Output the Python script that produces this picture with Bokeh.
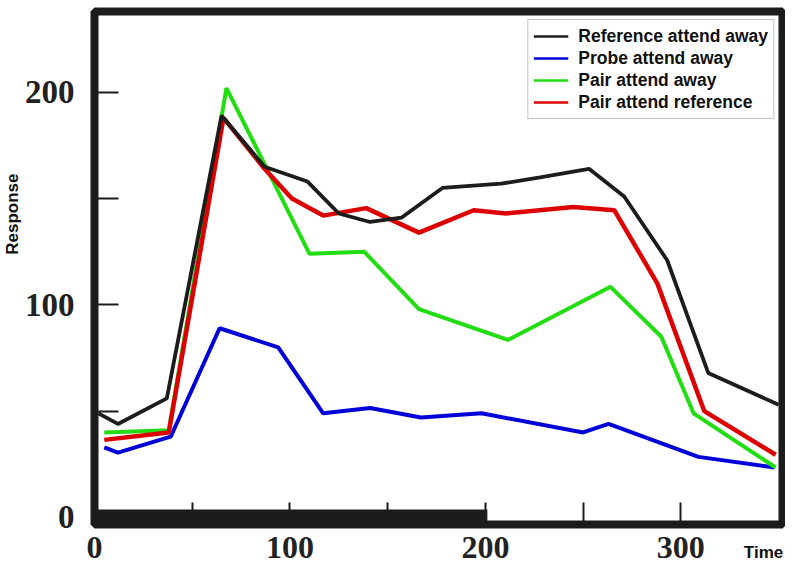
import math
from bokeh.plotting import figure
from bokeh.models import FixedTicker, BoxAnnotation, Legend, LegendItem, Range1d, Title, LinearAxis
from bokeh.embed import file_html
from bokeh.resources import INLINE

# ---- data ----
ref_away_x = [2, 12, 37, 65, 87, 109, 125, 141, 157, 178, 208, 228, 253, 271, 293, 314, 350]
ref_away_y = [49, 44, 56, 189, 165, 158, 143, 139, 141, 155, 157, 160, 164, 151, 121, 68, 53]

probe_away_x = [5, 12, 39, 64, 94, 117, 141, 167, 198, 250, 263, 309, 348]
probe_away_y = [33, 30.5, 38, 89, 80, 49, 51.5, 47, 49, 40, 44, 28.5, 23.5]

pair_away_x = [5, 38, 67.5, 110, 138, 166, 211.5, 264, 290, 306.5, 348.5]
pair_away_y = [40, 41, 202, 124, 125, 98, 83.5, 108.5, 85, 49, 23.5]

pair_ref_x = [5, 38, 66, 87, 101, 117, 139, 166, 194, 210.5, 245, 266, 288, 312, 348.5]
pair_ref_y = [36.5, 40, 188, 164, 150, 142, 145.5, 134, 144.5, 143, 146, 144.5, 110, 50, 29.5]

series_labels = ["Reference attend away", "Probe attend away", "Pair attend away", "Pair attend reference"]
x_ticks = [0, 50, 100, 150, 200, 250, 300]
x_tick_labels = {50: "", 150: "", 250: ""}
y_ticks = [0, 50, 100, 150, 200]
y_tick_labels = {50: "", 150: ""}
x_title = "Time"
x_title_pos = 342.3
y_title = "Response"

BLACK = "#1c1c1c"
BLUE = "#0000d8"
GREEN = "#22dd11"
RED = "#dd0000"
NAN = float("nan")

p = figure(width=785, height=564, output_backend="svg", toolbar_location=None,
           x_range=Range1d(0, 352), y_range=Range1d(-3.3, 238),
           min_border_left=94, min_border_right=3, min_border_top=11, min_border_bottom=39)
p.background_fill_color = "white"
p.border_fill_color = "white"
p.outline_line_color = BLACK
p.outline_line_width = 8
p.outline_line_alpha = 1.0
p.grid.visible = False

for ax in (p.xaxis, p.yaxis):
    ax.axis_line_color = None
    ax.major_tick_line_color = BLACK
    ax.major_tick_line_width = 2
    ax.major_tick_out = 0
    ax.minor_tick_line_color = None
    ax.major_label_text_font = "Liberation Serif"
    ax.major_label_text_font_style = "bold"
    ax.major_label_text_color = "#222222"

p.xaxis.ticker = FixedTicker(ticks=x_ticks)
p.xaxis.major_label_overrides = x_tick_labels
p.xaxis.major_tick_in = 22
p.xaxis.major_label_standoff = 12
p.xaxis.major_label_text_font_size = "32px"
p.yaxis.ticker = FixedTicker(ticks=y_ticks)
p.yaxis.major_label_overrides = y_tick_labels
p.yaxis.major_tick_in = 24
p.yaxis.major_label_standoff = 20
p.yaxis.major_label_text_font_size = "33px"

# "Time" sits at the right end, level with the tick labels
time_axis = LinearAxis(ticker=FixedTicker(ticks=[x_title_pos]),
                       major_label_overrides={x_title_pos: x_title},
                       axis_line_color=None, major_tick_line_color=None,
                       minor_tick_line_color=None, major_tick_in=0, major_tick_out=0,
                       major_label_standoff=-18,
                       major_label_text_font="Liberation Sans",
                       major_label_text_font_style="bold",
                       major_label_text_font_size="17px",
                       major_label_text_color="#111111")
p.add_layout(time_axis, "below")

# thick bottom band of the original frame
p.add_layout(BoxAnnotation(right=201, top=3.7, fill_color=BLACK, fill_alpha=1.0, line_color=None))

p.line(probe_away_x, probe_away_y, line_color=BLUE, line_width=4)
p.line(pair_away_x, pair_away_y, line_color=GREEN, line_width=4)
p.line(pair_ref_x, pair_ref_y, line_color=RED, line_width=4.5)
p.line(ref_away_x, ref_away_y, line_color=BLACK, line_width=3.8)

# legend swatches (thinner than plotted lines)
d_black = p.line([NAN], [NAN], line_color=BLACK, line_width=2.5)
d_blue = p.line([NAN], [NAN], line_color=BLUE, line_width=2.5)
d_green = p.line([NAN], [NAN], line_color=GREEN, line_width=2.5)
d_red = p.line([NAN], [NAN], line_color=RED, line_width=2.5)

legend = Legend(items=[LegendItem(label=series_labels[0], renderers=[d_black]),
                       LegendItem(label=series_labels[1], renderers=[d_blue]),
                       LegendItem(label=series_labels[2], renderers=[d_green]),
                       LegendItem(label=series_labels[3], renderers=[d_red])],
                location="top_right")
legend.label_text_font = "Liberation Sans"
legend.label_text_font_style = "bold"
legend.label_text_font_size = "17.5px"
legend.label_text_color = "#111111"
legend.glyph_width = 35
legend.glyph_height = 20
legend.label_height = 22
legend.spacing = 0
legend.padding = 5
legend.margin = 8
legend.label_standoff = 10
legend.border_line_color = "#888888"
legend.border_line_width = 1
legend.background_fill_color = "white"
legend.background_fill_alpha = 1.0
p.add_layout(legend)

# y axis title, placed high as in the original
p.add_layout(Title(text=y_title, align="right", offset=162, standoff=0,
                   text_font="Liberation Sans", text_font_style="bold",
                   text_font_size="17px", text_color="#111111"), "left")

open("out.html", "w").write(file_html(p, INLINE))
